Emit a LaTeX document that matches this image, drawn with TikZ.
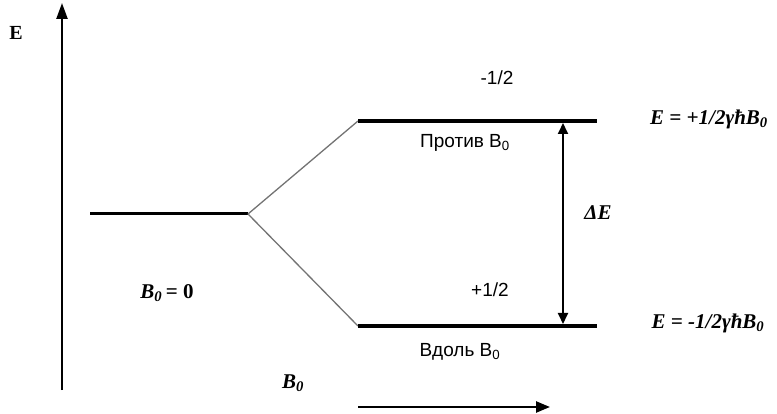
\documentclass[tikz,border=0pt]{standalone}
\usepackage{fontspec}
\setmainfont{Liberation Serif}
\newfontfamily\lsans{Liberation Sans}
\usetikzlibrary{arrows.meta}
\begin{document}
\begin{tikzpicture}[x=1pt,y=-1pt,
  level/.style={line width=4.2pt},
  split/.style={line width=1.3pt,black!55},
  axis/.style={line width=2.4pt,-{Triangle[length=16pt,width=11pt]}},
  sanslbl/.style={font=\lsans\fontsize{19}{22}\selectfont,inner sep=0pt},
  mathlbl/.style={font=\bfseries\itshape\fontsize{21}{24}\selectfont,inner sep=0pt}]
\useasboundingbox (0,0) rectangle (777,414);
% coordinates
\coordinate (ab) at (62,390);
\coordinate (at) at (62,3);
\coordinate (l0a) at (90,214);
\coordinate (l0b) at (248,214);
\coordinate (upa) at (358,121);
\coordinate (upb) at (597,121);
\coordinate (loa) at (358,326);
\coordinate (lob) at (597,326);
\coordinate (dt) at (563,123);
\coordinate (db) at (563,324);
\coordinate (ba) at (358,407);
\coordinate (bb) at (550,407);
% axis
\draw[axis] (ab) -- (at);
\node[inner sep=0pt,font=\bfseries\fontsize{20}{22}\selectfont] (elbl) at (16,33) {E};
% levels
\draw[line width=3pt] (l0a) -- (l0b);
\draw[split] (l0b) -- (upa);
\draw[split] (l0b) -- (loa);
\draw[level] (upa) -- (upb);
\draw[level] (loa) -- (lob);
% delta E arrow
\draw[line width=1.8pt,{Triangle[length=11pt,width=10pt]}-{Triangle[length=11pt,width=10pt]}] (dt) -- (db);
% B0 arrow
\draw[line width=2.4pt,-{Triangle[length=14pt,width=11pt]}] (ba) -- (bb);
% labels
\node[sanslbl] (m12) at (497,78) {-1/2};
\node[sanslbl] (p12) at (490,290) {+1/2};
\node[sanslbl] (protiv) at (465,143) {Против B\textsubscript{0}};
\node[sanslbl] (vdol) at (460,352) {Вдоль B\textsubscript{0}};
\node[mathlbl] (de) at (598,213) {ΔE};
\node[mathlbl] (eup) at (709,119) {E = +1/2γħB\textsubscript{0}};
\node[mathlbl] (elo) at (708,323) {E = -1/2γħB\textsubscript{0}};
\node[mathlbl] (b0z) at (167,293) {B\textsubscript{0}\,{\upshape= 0}};
\node[mathlbl] (b0) at (293,383) {B\textsubscript{0}};
\end{tikzpicture}
\end{document}
